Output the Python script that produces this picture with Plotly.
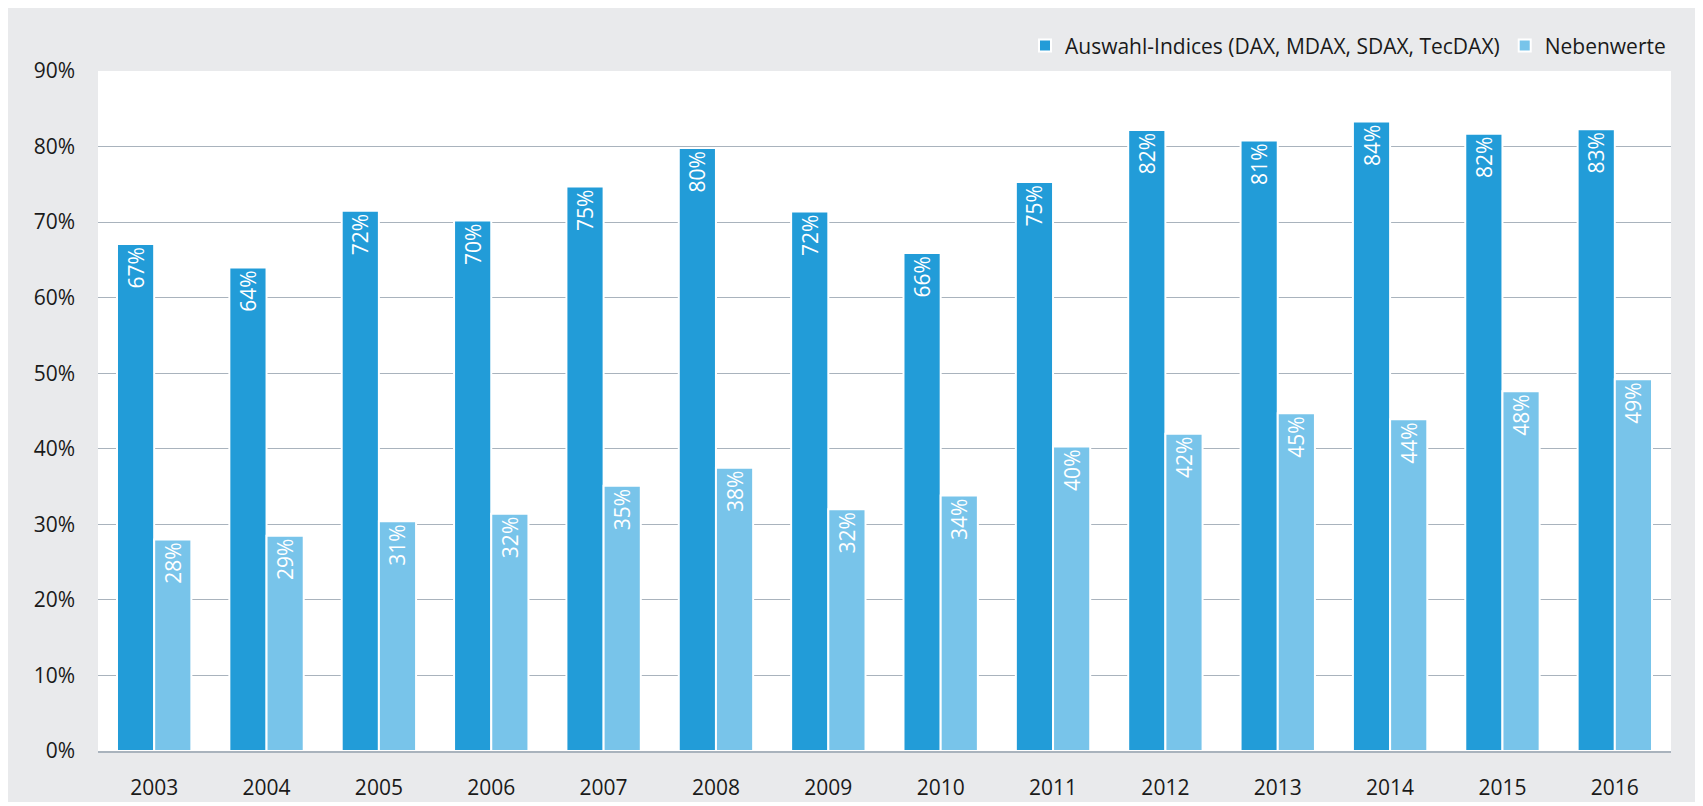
import plotly.graph_objects as go

years = ["2003", "2004", "2005", "2006", "2007", "2008", "2009",
         "2010", "2011", "2012", "2013", "2014", "2015", "2016"]
auswahl = [67.1, 64.0, 71.5, 70.2, 74.7, 79.8, 71.4, 65.9, 75.3, 82.2, 80.8, 83.3, 81.7, 82.3]
auswahl_labels = ["67%", "64%", "72%", "70%", "75%", "80%", "72%", "66%", "75%", "82%", "81%", "84%", "82%", "83%"]
neben = [28.0, 28.5, 30.4, 31.4, 35.1, 37.5, 32.0, 33.8, 40.3, 42.0, 44.7, 43.9, 47.6, 49.2]
neben_labels = ["28%", "29%", "31%", "32%", "35%", "38%", "32%", "34%", "40%", "42%", "45%", "44%", "48%", "49%"]
y_ticks = [0, 10, 20, 30, 40, 50, 60, 70, 80, 90]
y_tick_labels = [f"{v}%" for v in y_ticks]

DARK = "#229CD8"
LIGHT = "#78C4EA"
GRID = "#A9B3BD"
BG = "#E9EAEC"
FONT = "Open Sans"
TXT = "#1A1A1A"

fig = go.Figure()
fig.add_trace(go.Bar(
    x=years, y=auswahl, name="Auswahl-Indices (DAX, MDAX, SDAX, TecDAX)",
    marker=dict(color=DARK, line=dict(color="white", width=2)),
    text=auswahl_labels, textposition="inside", insidetextanchor="end",
    textangle=-90, textfont=dict(color="white", size=21, family=FONT),
    hoverinfo="x+y",
))
fig.add_trace(go.Bar(
    x=years, y=neben, name="Nebenwerte",
    marker=dict(color=LIGHT, line=dict(color="white", width=2)),
    text=neben_labels, textposition="inside", insidetextanchor="end",
    textangle=-90, textfont=dict(color="white", size=21, family=FONT),
    hoverinfo="x+y",
))

W, H = 1695, 794
L, R, T, B = 90, 32, 63, 51

fig.update_layout(
    width=W, height=H,
    margin=dict(l=L, r=R, t=T, b=B, pad=0, autoexpand=False),
    paper_bgcolor=BG, plot_bgcolor="white",
    barmode="group", bargap=0.338, bargroupgap=0,
    font=dict(family=FONT, size=21, color=TXT),
    uniformtext=dict(minsize=21, mode="show"),
    showlegend=True,
    legend=dict(orientation="h", x=1.0, xanchor="right", y=1.037, yanchor="middle",
                bgcolor="rgba(0,0,0,0)", font=dict(family=FONT, size=21, color=TXT),
                itemclick=False, traceorder="normal"),
    xaxis=dict(showgrid=False, showline=True, linecolor=GRID, linewidth=1.5,
               ticks="", ticklabelstandoff=17, tickfont=dict(size=21, color=TXT),
               automargin=False),
    yaxis=dict(range=[0, 90], tickvals=y_ticks, ticktext=y_tick_labels,
               showgrid=True, gridcolor=GRID, gridwidth=1, zeroline=False,
               showline=False, ticks="", ticklabelstandoff=22,
               tickfont=dict(size=21, color=TXT), automargin=False),
)

fig.write_html("out.html")
